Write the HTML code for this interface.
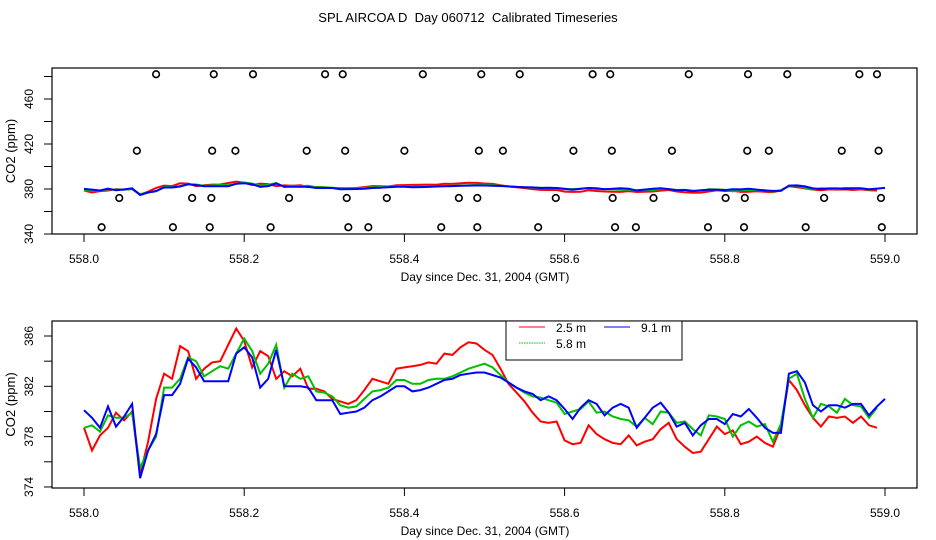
<!DOCTYPE html>
<html><head><meta charset="utf-8"><title>SPL AIRCOA D Calibrated Timeseries</title>
<style>
html,body{margin:0;padding:0;background:#fff;}
svg{display:block;font-family:"Liberation Sans",Arial,sans-serif;}
text{white-space:pre;}
</style></head>
<body>
<svg id="chart" width="936" height="540" viewBox="0 0 936 540" xmlns="http://www.w3.org/2000/svg">
<text x="468" y="22" text-anchor="middle" font-size="13" xml:space="preserve">SPL AIRCOA D  Day 060712  Calibrated Timeseries</text>
</svg>
<script>
// ---- data ----
const days = [];
for (let i = 0; i <= 100; i++) days.push(+(i / 100).toFixed(2));
const seriesNames = ["2.5 m", "5.8 m", "9.1 m"];
const red = [378.7,376.9,378.1,378.7,379.9,379.3,380.0,375.0,377.6,381.0,383.0,382.6,385.2,384.8,382.6,383.4,383.9,384.0,385.3,386.6,
385.6,383.5,384.8,384.4,382.6,383.2,382.8,383.4,381.8,381.8,381.6,381.0,380.8,380.6,380.9,381.7,382.6,382.4,382.2,383.4,
383.5,383.6,383.7,383.9,383.8,384.6,384.5,385.1,385.5,385.4,384.9,384.5,383.4,382.2,381.5,380.8,379.9,379.2,379.1,379.2,
377.7,377.4,377.5,378.9,378.2,377.8,377.5,377.4,378.1,377.3,377.6,377.8,378.6,379.1,377.8,377.2,376.7,376.8,377.8,378.8,
378.2,378.5,377.4,377.6,378.0,377.5,377.2,378.8,382.5,381.7,380.5,379.5,378.8,379.6,379.5,379.6,379.1,379.6,378.9,378.7,null];
const green = [378.7,378.9,378.4,379.7,379.5,379.5,379.9,375.5,376.9,378.0,381.9,381.9,382.6,384.3,384.0,382.8,383.2,383.6,383.4,384.6,
385.8,384.8,383.0,383.8,385.3,381.9,383.0,382.6,382.8,381.6,381.5,381.2,380.5,380.3,380.4,381.0,381.6,381.7,381.9,382.5,
382.5,382.2,382.2,382.5,382.6,382.6,382.8,383.1,383.4,383.6,383.8,383.5,382.9,382.3,381.9,381.5,381.2,381.1,380.9,380.7,
379.8,380.0,380.2,380.8,379.9,380.0,379.6,379.4,379.3,378.8,379.5,379.0,380.0,379.9,379.1,379.2,378.6,378.1,379.7,379.6,
379.4,378.0,378.9,379.2,378.8,379.0,377.6,379.0,382.6,383.0,381.0,379.5,380.6,380.4,379.9,381.0,380.5,380.4,379.5,380.3,null];
const blue = [380.1,379.5,378.7,380.4,378.8,379.6,380.6,374.7,376.9,378.2,381.3,381.3,382.2,384.2,383.5,382.4,382.4,382.4,382.4,384.6,
385.1,384.3,381.9,382.6,384.9,382.0,382.0,382.0,381.9,380.9,380.9,380.9,379.8,379.9,380.0,380.3,380.9,381.2,381.6,382.0,
382.0,381.6,381.7,381.9,382.2,382.5,382.6,382.9,383.0,383.1,383.1,382.9,382.7,382.3,381.9,381.6,381.4,380.9,381.2,380.9,
380.2,379.4,380.3,380.9,380.6,379.7,380.3,380.6,380.3,378.7,379.5,380.3,380.7,379.9,378.8,379.1,378.1,378.9,379.4,379.4,
379.0,379.8,379.6,380.2,379.5,378.7,378.3,378.3,383.0,383.2,382.3,380.5,380.0,380.5,380.5,380.3,380.6,380.6,379.7,380.4,381.0];
const flagLevels = [482, 414, 372, 346];
const flagDays482 = [0.090,0.162,0.211,0.301,0.323,0.423,0.496,0.544,0.635,0.657,0.755,0.829,0.878,0.968,0.990];
const flagDays414 = [0.066,0.160,0.189,0.278,0.326,0.400,0.523,0.493,0.611,0.659,0.734,0.828,0.855,0.946,0.992];
const flagDays372 = [0.044,0.135,0.159,0.256,0.328,0.378,0.468,0.491,0.589,0.660,0.711,0.801,0.825,0.924,0.995];
const flagDays346 = [0.022,0.111,0.157,0.233,0.330,0.355,0.446,0.491,0.567,0.663,0.689,0.779,0.824,0.901,0.996];
const xTicks = [0, 0.2, 0.4, 0.6, 0.8, 1.0];
const xTickLabels = ["558.0","558.2","558.4","558.6","558.8","559.0"];
const topYTicks = [340,360,380,400,420,440,460,480];
const topYLabels = [340,380,420,460];
const botYTicks = [374,376,378,380,382,384,386];
const botYLabels = [374,378,382,386];

// ---- drawing ----
const NS = "http://www.w3.org/2000/svg";
const svg = document.getElementById("chart");
const xScale = d => 84 + d * 801;
const topY = v => 234 - (v - 340) * 1.125;
const botY = v => 336 + (386 - v) * 12.58;
const colors = ["#ff0000", "#00c000", "#0000ff"];

function mk(tag, attrs, parent) {
  const e = document.createElementNS(NS, tag);
  for (const k in attrs) e.setAttribute(k, attrs[k]);
  (parent || svg).appendChild(e);
  return e;
}

function panel(name, top, bottom, yFn, yTicks, yLabels, allSeries) {
  const g = mk("g", {});
  
  
  const box = mk("rect", {x: 52, y: top, width: 865, height: bottom - top, fill: "none", stroke: "#000", "stroke-width": 1.2}, g);
  
  
  const yax = mk("g", {}, g);
  
  
  yTicks.forEach(t => {
    const y = yFn(t);
    mk("line", {x1: 44, x2: 52, y1: y, y2: y, stroke: "#000", "stroke-width": 1}, yax);
  });
  yLabels.forEach(t => {
    const y = yFn(t);
    const tx = mk("text", {x: 0, y: 0, "font-size": 12, "text-anchor": "middle", transform: `translate(33,${y}) rotate(-90)`}, yax);
    
    
    tx.textContent = t;
  });
  const yt = mk("text", {x: 0, y: 0, "font-size": 13, "text-anchor": "middle", transform: `translate(15,${(top + bottom) / 2}) rotate(-90)`}, g);
  
  
  yt.textContent = "CO2 (ppm)";
  const xax = mk("g", {}, g);
  
  
  xTicks.forEach((t, i) => {
    const x = xScale(t);
    mk("line", {x1: x, x2: x, y1: bottom, y2: bottom + 8, stroke: "#000", "stroke-width": 1}, xax);
    const tx = mk("text", {x: x, y: bottom + 29, "font-size": 12, "text-anchor": "middle"}, xax);
    
    
    tx.textContent = xTickLabels[i];
  });
  const xt = mk("text", {x: 485, y: bottom + 47, "font-size": 12, "text-anchor": "middle"}, g);
  
  
  xt.textContent = "Day since Dec. 31, 2004 (GMT)";
  allSeries.forEach((vals, si) => {
    let d = "";
    vals.forEach((v, i) => {
      if (v === null) return;
      d += (d ? "L" : "M") + xScale(days[i]).toFixed(1) + "," + yFn(v).toFixed(1);
    });
    const p = mk("path", {d: d, fill: "none", stroke: colors[si], "stroke-width": 2, "stroke-linejoin": "miter"}, g);
    
    
  });
  return g;
}

const topPanel = panel("top-panel", 68, 234, topY, topYTicks, topYLabels, [red, green, blue]);
const flagSets = [flagDays482, flagDays414, flagDays372, flagDays346];
flagSets.forEach((arr, li) => {
  arr.forEach(d => {
    const c = mk("circle", {cx: xScale(d), cy: topY(flagLevels[li]), r: 3.3, fill: "none", stroke: "#000", "stroke-width": 1.6}, topPanel);
    
    
  });
});

const botPanel = panel("bottom-panel", 321, 488, botY, botYTicks, botYLabels, [red, green, blue]);

const lg = mk("g", {});


mk("rect", {x: 506, y: 321, width: 176, height: 39, fill: "#fff", stroke: "#000", "stroke-width": 1}, lg);
const legendItems = [
  {x: 519, y: 327, c: colors[0], dash: null, label: seriesNames[0]},
  {x: 519, y: 343, c: colors[1], dash: "1.5,1", label: seriesNames[1]},
  {x: 604, y: 327, c: colors[2], dash: null, label: seriesNames[2]}
];
legendItems.forEach(it => {
  const e = mk("g", {}, lg);
  
  
  const ln = mk("line", {x1: it.x, x2: it.x + 26, y1: it.y, y2: it.y, stroke: it.c, "stroke-width": 1}, e);
  if (it.dash) ln.setAttribute("stroke-dasharray", it.dash);
  const t = mk("text", {x: it.x + 37, y: it.y + 5, "font-size": 12}, e);
  t.textContent = it.label;
});
</script>
</body></html>
